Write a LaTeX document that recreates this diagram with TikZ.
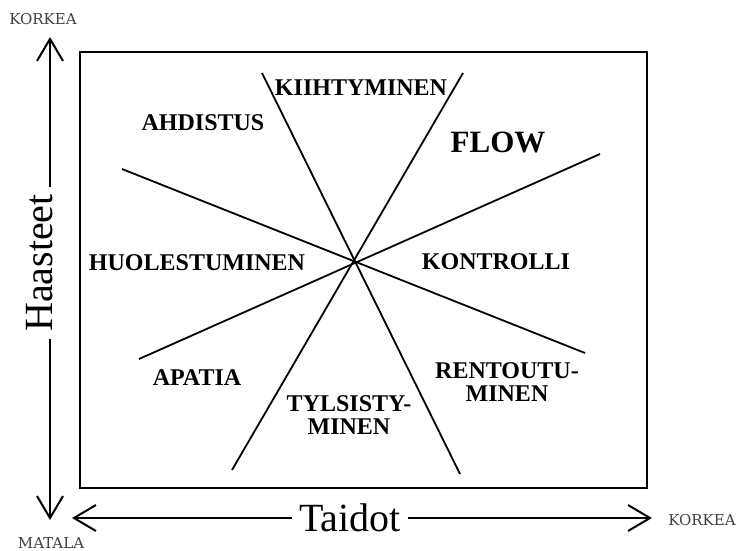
\documentclass[tikz,border=0pt]{standalone}
\usepackage{fontspec}
\setmainfont{Liberation Serif}
\newfontfamily\slabfont{DejaVu Serif}
\usetikzlibrary{arrows.meta}
\begin{document}
\begin{tikzpicture}[x=1pt,y=-1pt,
  lbl/.style={font=\fontsize{24}{23}\selectfont\bfseries, inner sep=0pt, align=center},
  big/.style={font=\fontsize{31}{31}\selectfont\bfseries, inner sep=0pt},
  axislbl/.style={font=\fontsize{40}{40}\selectfont, fill=white, inner sep=7pt},
  endlbl/.style={font=\slabfont\fontsize{15}{15}\selectfont, text=black!75, inner sep=0pt},
  axisline/.style={line width=2pt, {Straight Barb[length=22pt,width=26pt,line width=2pt]}-{Straight Barb[length=22pt,width=26pt,line width=2pt]}},
  diag/.style={line width=1.8pt},
  frame/.style={line width=2.5pt}]
\useasboundingbox (0,0) rectangle (739,551);

% frame
\draw[frame] (80,52) rectangle (647,488);

% diagonal lines
\draw[diag] (262,73) -- (460,474);
\draw[diag] (463,73) -- (232,470);
\draw[diag] (122,169) -- (585,353);
\draw[diag] (600,154) -- (139,359);

% axes
\coordinate (vtop) at (50,37);
\coordinate (vbot) at (50,520);
\coordinate (hleft) at (72,518);
\coordinate (hright) at (652,518);
\draw[axisline] (vtop) -- (vbot);
\draw[axisline] (hleft) -- (hright);
\node[axislbl, rotate=90] (haasteet) at (40,263) {Haasteet};
\node[axislbl] (taidot) at (350,518) {Taidot};

% axis end labels
\node[endlbl] (korkeav) at (43,19) {KORKEA};
\node[endlbl] (matala) at (51,543) {MATALA};
\node[endlbl] (korkeah) at (702,520) {KORKEA};

% region labels
\node[lbl] (kiiht) at (361,88) {KIIHTYMINEN};
\node[lbl] (ahd) at (203,123) {AHDISTUS};
\node[big] (flow) at (498,142) {FLOW};
\node[lbl] (huol) at (197,263) {HUOLESTUMINEN};
\node[lbl] (kontr) at (496,262) {KONTROLLI};
\node[lbl] (apat) at (197,378) {APATIA};
\node[lbl] (rent) at (507,382) {RENTOUTU-\\MINEN};
\node[lbl] (tyls) at (349,415) {TYLSISTY-\\MINEN};
\end{tikzpicture}
\end{document}
